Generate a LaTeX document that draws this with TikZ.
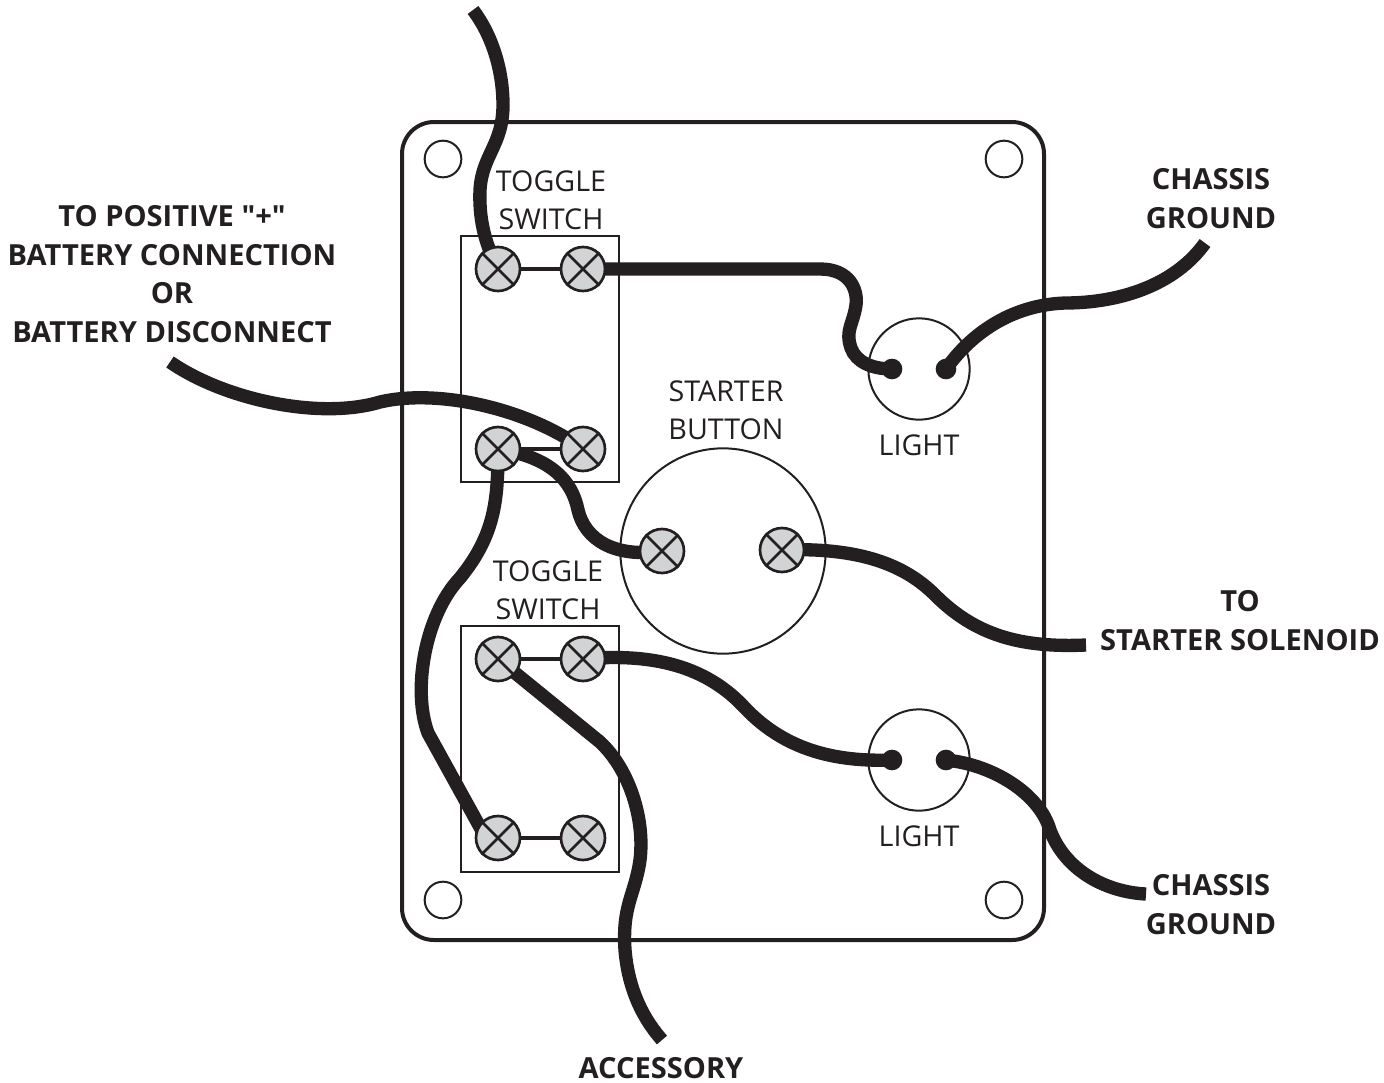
\documentclass[tikz,border=0pt]{standalone}
\usepackage{fontspec}
\newfontfamily\lblfont{Open Sans}
\definecolor{wirecol}{HTML}{231F20}
\definecolor{termfill}{HTML}{D1D3D4}
\begin{document}
\begin{tikzpicture}[x=0.75pt,y=-0.75pt,
  wire/.style={line width=10pt,draw=wirecol},
  link/.style={line width=3.7pt,draw=wirecol},
  term/.style={circle,draw=wirecol,line width=2pt,fill=termfill,minimum size=33pt,inner sep=0pt},
  hole/.style={circle,draw=wirecol,line width=1.5pt,minimum size=27.5pt,inner sep=0pt},
  lamp/.style={circle,draw=wirecol,line width=1.5pt,minimum size=76pt,inner sep=0pt},
  swbox/.style={draw=wirecol,line width=1.7pt,minimum width=119pt,minimum height=185pt,inner sep=0pt},
  dot/.style={circle,fill=wirecol,minimum size=15.5pt,inner sep=0pt},
  xmark/.style={draw=wirecol,line width=2pt},
  lab/.style={font=\lblfont\fontsize{21.5pt}{28.6pt}\selectfont,text=wirecol,align=center,inner sep=0pt},
  blab/.style={font=\lblfont\fontsize{21.8pt}{28.9pt}\selectfont\bfseries,text=wirecol,align=center,inner sep=0pt}]
\useasboundingbox (0,0) rectangle (1384,1082);
% panel
\draw[wirecol,line width=3pt,rounded corners=24pt] (402,122) rectangle (1044,940);
\node[hole] (h1) at (443,159) {};
\node[hole] (h2) at (1004,159) {};
\node[hole] (h3) at (443,900) {};
\node[hole] (h4) at (1004,900) {};
\node[swbox] (sw1) at (540,359) {};
\node[swbox] (sw2) at (540,749) {};
\node[lamp] (l1) at (919,369) {};
\node[lamp] (l2) at (919,760) {};
\node[circle,draw=wirecol,line width=1.5pt,minimum size=154pt,inner sep=0pt] (btn) at (723,551) {};
% dots
\node[dot] (d1) at (892,369) {};
\node[dot] (d2) at (946,369) {};
\node[dot] (d3) at (892,760) {};
\node[dot] (d4) at (946,760) {};
% terminal centres
\coordinate (a) at (498,269);
\coordinate (b) at (583,269);
\coordinate (c) at (498,449);
\coordinate (d) at (583,449);
\coordinate (e) at (662,551);
\coordinate (f) at (782,550);
\coordinate (g) at (498,659);
\coordinate (h) at (583,659);
\coordinate (i) at (498,838);
\coordinate (j) at (583,838);
\coordinate (iw) at (486,838);
% free ends
\coordinate (x1) at (473,10);
\coordinate (x2) at (1205,243);
\coordinate (x3) at (170,362);
\coordinate (x4) at (1086,645);
\coordinate (x5) at (662,1040);
\coordinate (x6) at (1146,894);
% links
\draw[link] (a) -- (b);
\draw[link] (c) -- (d);
\draw[link] (g) -- (h);
\draw[link] (i) -- (j);
% wires
\draw[wire] (x1) .. controls (492,35) and (503,70) .. (503,105) .. controls (503,145) and (482,155) .. (480,190) .. controls (479,215) and (483,240) .. (a);
\draw[wire] (b) -- (820,269) .. controls (850,269) and (858,290) .. (856,305) .. controls (853,325) and (845,330) .. (851,348) .. controls (856,362) and (872,369) .. (d1.center);
\draw[wire] (d2.center) .. controls (970,335) and (1010,305) .. (1065,303) .. controls (1120,303) and (1175,285) .. (x2);
\draw[wire] (x3) .. controls (225,400) and (320,420) .. (380,402) .. controls (440,388) and (530,410) .. (d);
\draw[wire] (c) .. controls (550,457) and (572,480) .. (578,510) .. controls (585,540) and (615,558) .. (e);
\draw[wire] (c) .. controls (498,500) and (495,535) .. (460,578) .. controls (425,615) and (412,690) .. (428,733) -- (iw);
\draw[wire] (f) .. controls (860,547) and (905,565) .. (935,595) .. controls (975,635) and (1020,648) .. (x4);
\draw[wire] (h) .. controls (660,652) and (710,670) .. (745,708) .. controls (785,750) and (835,762) .. (d3.center);
\draw[wire] (g) -- (600,742) .. controls (630,770) and (645,820) .. (640,860) .. controls (635,895) and (622,905) .. (625,950) .. controls (628,985) and (640,1015) .. (x5);
\draw[wire] (d4.center) .. controls (995,765) and (1040,795) .. (1050,830) .. controls (1065,870) and (1105,892) .. (x6);
% terminals
\foreach \n in {a,b,c,d,e,f,g,h,i,j}{
  \node[term] (t\n) at (\n) {};
  \draw[xmark] (t\n.north west) -- (t\n.south east);
  \draw[xmark] (t\n.north east) -- (t\n.south west);
}
% labels
\node[lab] (t1) at (551,200) {TOGGLE\\SWITCH};
\node[lab] (t2) at (548,590) {TOGGLE\\SWITCH};
\node[lab] (t3) at (726,410) {STARTER\\BUTTON};
\node[lab] (t4) at (919,445) {LIGHT};
\node[lab] (t5) at (919,836) {LIGHT};
\node[blab] (t6) at (172,274) {TO POSITIVE "+"\\BATTERY CONNECTION\\OR\\BATTERY DISCONNECT};
\node[blab] (t7) at (1211,198.5) {CHASSIS\\GROUND};
\node[blab] (t8) at (1211,904.5) {CHASSIS\\GROUND};
\node[blab] (t9) at (1240,620.5) {TO\\STARTER SOLENOID};
\node[blab] (t10) at (661,1068) {ACCESSORY};
\end{tikzpicture}
\end{document}
